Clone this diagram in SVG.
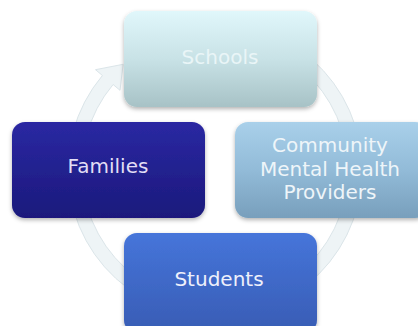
<svg xmlns="http://www.w3.org/2000/svg" width="418" height="326" viewBox="0 0 418 326">
<defs>
<linearGradient id="gSchools" x1="0" y1="0" x2="0" y2="1"><stop offset="0" stop-color="#e0f7fb"/><stop offset="0.5" stop-color="#c8e2e6"/><stop offset="1" stop-color="#a7c2c6"/></linearGradient>
<linearGradient id="gFamilies" x1="0" y1="0" x2="0" y2="1"><stop offset="0" stop-color="#2a28a2"/><stop offset="1" stop-color="#1b197c"/></linearGradient>
<linearGradient id="gCommunity" x1="0" y1="0" x2="0" y2="1"><stop offset="0" stop-color="#a9d0ea"/><stop offset="0.5" stop-color="#92bbd8"/><stop offset="1" stop-color="#789fbc"/></linearGradient>
<linearGradient id="gStudents" x1="0" y1="0" x2="0" y2="1"><stop offset="0" stop-color="#4675da"/><stop offset="1" stop-color="#385cb4"/></linearGradient>
<filter id="shadow" x="-10%" y="-10%" width="120%" height="130%"><feDropShadow dx="0" dy="2" stdDeviation="2" flood-color="#000" flood-opacity="0.3"/></filter>
</defs>
<style>
.box{filter:url(#shadow);}
.lbl{font-family:"DejaVu Sans",sans-serif;font-size:20px;text-anchor:middle;}
</style>
<rect width="418" height="326" fill="#ffffff"/>
<g id="connectors">
<path d="M240.5,25.2 A147,147 0 1 1 102.4,75.5 L95.5,69.7 L123.1,64.3 L120.0,90.3 L113.1,84.5 A133,133 0 1 0 238.1,39.0 Z" fill="#eef4f6" stroke="#dbe5e9" stroke-width="1"/>
</g>
<g id="node-schools">
<rect class="box" x="124" y="11" width="193" height="96" rx="13" fill="url(#gSchools)"/>
<text class="lbl" x="220" y="64" fill="#e9f5f7">Schools</text>
</g>
<g id="node-families">
<rect class="box" x="12" y="122" width="193" height="96" rx="13" fill="url(#gFamilies)"/>
<text class="lbl" x="108" y="173" fill="#e2def6">Families</text>
</g>
<g id="node-community">
<rect class="box" x="235" y="122" width="193" height="96" rx="13" fill="url(#gCommunity)"/>
<text class="lbl" x="330" y="152" fill="#eef5f9">Community</text>
<text class="lbl" x="330" y="176" fill="#eef5f9">Mental Health</text>
<text class="lbl" x="330" y="199" fill="#eef5f9">Providers</text>
</g>
<g id="node-students">
<rect class="box" x="124" y="233" width="193" height="100" rx="13" fill="url(#gStudents)"/>
<text class="lbl" x="219" y="286" fill="#eef0fb">Students</text>
</g>
</svg>
